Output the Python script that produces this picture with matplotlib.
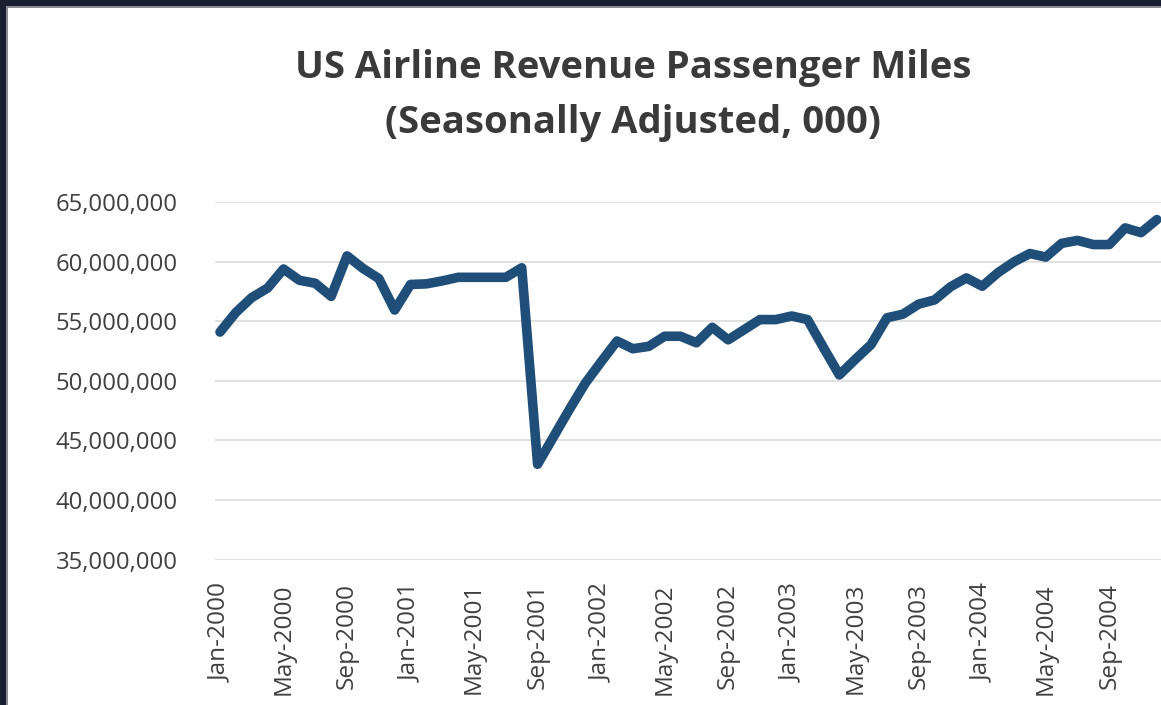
import matplotlib
matplotlib.use("Agg")
import matplotlib.pyplot as plt
from matplotlib.ticker import FuncFormatter
from matplotlib.patches import Rectangle

# ---- data ----
months = [f"{m}-{y}" for y in range(2000, 2005)
          for m in ["Jan", "Feb", "Mar", "Apr", "May", "Jun",
                    "Jul", "Aug", "Sep", "Oct", "Nov", "Dec"]]
rpm_millions = [
    54.1, 55.75, 57.0, 57.8, 59.4, 58.45, 58.2, 57.1, 60.5, 59.45, 58.6, 55.95,   # 2000
    58.1, 58.15, 58.4, 58.7, 58.7, 58.7, 58.7, 59.5, 43.0, 45.3, 47.6, 49.8,      # 2001
    51.6, 53.35, 52.7, 52.9, 53.75, 53.75, 53.2, 54.5, 53.45, 54.3, 55.15, 55.15, # 2002
    55.45, 55.15, 52.8, 50.5, 51.8, 53.05, 55.3, 55.6, 56.45, 56.8, 57.9, 58.65,  # 2003
    57.95, 59.1, 60.0, 60.7, 60.4, 61.55, 61.8, 61.45, 61.45, 62.85, 62.45, 63.55 # 2004
]
rpm = [v * 1_000_000 for v in rpm_millions]
tick_labels = ["Jan-2000", "May-2000", "Sep-2000", "Jan-2001", "May-2001",
               "Sep-2001", "Jan-2002", "May-2002", "Sep-2002", "Jan-2003",
               "May-2003", "Sep-2003", "Jan-2004", "May-2004", "Sep-2004"]
y_ticks = [35_000_000, 40_000_000, 45_000_000, 50_000_000,
           55_000_000, 60_000_000, 65_000_000]
title_lines = ["US Airline Revenue Passenger Miles", "(Seasonally Adjusted, 000)"]

# ---- figure ----
W, H, DPI = 1161, 705, 100
plt.rcParams['font.family'] = ['Open Sans', 'DejaVu Sans']
fig = plt.figure(figsize=(W / DPI, H / DPI), dpi=DPI, facecolor="white")

# outer dark frame (left and top)
fig.patches.append(Rectangle((0, 0), 6 / W, 1, transform=fig.transFigure,
                             facecolor="#1b1e2c", edgecolor="none", zorder=10))
fig.patches.append(Rectangle((0, 1 - 6 / H), 1, 6 / H, transform=fig.transFigure,
                             facecolor="#1b1e2c", edgecolor="none", zorder=10))
fig.patches.append(Rectangle((6 / W, 0), 1.5 / W, 1 - 6 / H, transform=fig.transFigure,
                             facecolor="#8a8d96", edgecolor="none", zorder=10))
fig.patches.append(Rectangle((6 / W, 1 - 7.5 / H), 1, 1.5 / H, transform=fig.transFigure,
                             facecolor="#8a8d96", edgecolor="none", zorder=10))

left_px, right_px = 215, 1161
top_px, bottom_px = 202.3, 559.5
ax = fig.add_axes([left_px / W, 1 - bottom_px / H,
                   (right_px - left_px) / W, (bottom_px - top_px) / H])

step = 15.88
first_x = 220
x = list(range(len(rpm)))
ax.plot(x, rpm, color="#1f4e79", lw=6.9, solid_capstyle="round",
        solid_joinstyle="round", zorder=3, clip_on=False)

ax.set_xlim(-(first_x - left_px) / step, (right_px - first_x) / step)
ax.set_ylim(35_000_000, 65_000_000)
ax.set_yticks(y_ticks)
ax.yaxis.set_major_formatter(FuncFormatter(lambda v, p: f"{int(v):,}"))
ax.set_xticks([months.index(t) for t in tick_labels])
ax.set_xticklabels(tick_labels, rotation=90, va="top", ha="center")

ax.grid(axis="y", color="#d9d9d9", lw=1.1)
ax.grid(axis="x", visible=False)
ax.set_axisbelow(True)
for s in ax.spines.values():
    s.set_visible(False)
ax.tick_params(axis="both", length=0, labelcolor="#404040")
ax.tick_params(axis="y", pad=27, labelsize=17.2)
ax.tick_params(axis="x", pad=17, labelsize=17.6)

# title, two centered lines
fig.text(633 / W, 1 - 78 / H, title_lines[0], ha="center", va="baseline",
         fontsize=27.5, fontweight="bold", color="#3a3a3a")
fig.text(633 / W, 1 - 133 / H, title_lines[1], ha="center", va="baseline",
         fontsize=27.5, fontweight="bold", color="#3a3a3a")

fig.savefig("out.png", dpi=DPI, facecolor="white")
